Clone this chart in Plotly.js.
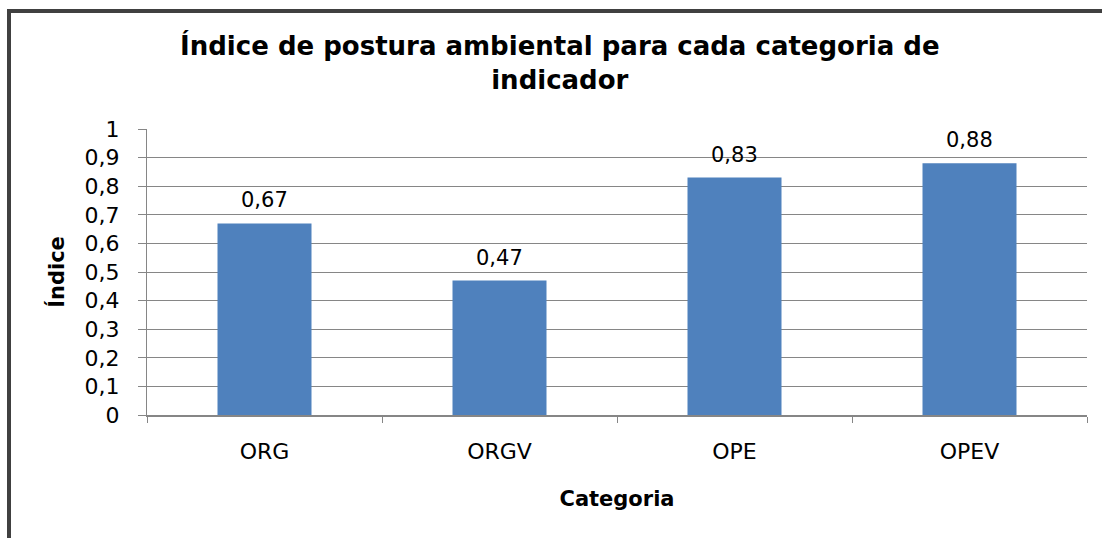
<!DOCTYPE html>
<html>
<head>
<meta charset="utf-8">
<script src="https://cdn.plot.ly/plotly-3.0.1.min.js"></script>
<style>
html,body{margin:0;padding:0;background:#fff;}
#wrap{position:relative;width:1102px;height:538px;overflow:hidden;}
#chart{width:1102px;height:538px;}
#frame{position:absolute;left:7px;top:9px;width:1110px;height:560px;border-left:4px solid #404040;border-top:4px solid #404040;pointer-events:none;}
</style>
</head>
<body>
<div id="wrap"><div id="chart"></div><div id="frame"></div></div>
<script>
const categories = ["ORG", "ORGV", "OPE", "OPEV"];
const values = [0.67, 0.47, 0.83, 0.88];
const labels = ["0,67", "0,47", "0,83", "0,88"];
const yTicks = [0, 0.1, 0.2, 0.3, 0.4, 0.5, 0.6, 0.7, 0.8, 0.9, 1];

const trace = {
  type: "bar",
  x: categories,
  y: values,
  marker: {color: "#4F81BD"},
  hoverinfo: "none"
};

const annotations = categories.map((c, i) => ({
  x: c, y: values[i], xref: "x", yref: "y",
  text: labels[i], showarrow: false,
  yanchor: "bottom", yshift: 9,
  font: {family: "DejaVu Sans", size: 21, color: "#000"}
}));

const layout = {
  width: 1102, height: 538,
  margin: {l: 147, r: 15, t: 129, b: 123},
  paper_bgcolor: "#fff", plot_bgcolor: "#fff",
  separators: ", ",
  bargap: 0.6,
  showlegend: false,
  annotations: annotations,
  title: {
    text: "<b>Índice de postura ambiental para cada categoria de<br>indicador</b>",
    font: {family: "DejaVu Sans", size: 26, color: "#000"},
    x: 0.508, xanchor: "center", y: 0.897, yanchor: "top"
  },
  xaxis: {
    type: "category",
    showline: true, linecolor: "#868686", linewidth: 2,
    ticks: "outside", tickson: "boundaries", ticklen: 6, tickcolor: "#868686",
    tickfont: {family: "DejaVu Sans", size: 22, color: "#000"},
    ticklabelstandoff: 16,
    title: {text: "<b>Categoria</b>", font: {family: "DejaVu Sans", size: 21, color: "#000"}, standoff: 28}
  },
  yaxis: {
    range: [0, 1],
    tickvals: yTicks,
    showline: true, linecolor: "#868686", linewidth: 1,
    showgrid: true, gridcolor: "#868686", gridwidth: 1,
    ticks: "outside", ticklen: 8, tickcolor: "#868686",
    tickfont: {family: "DejaVu Sans", size: 22, color: "#000"},
    ticklabelstandoff: 14,
    zeroline: false,
    title: {text: "<b>Índice</b>", font: {family: "DejaVu Sans", size: 21, color: "#000"}, standoff: 14}
  }
};

Plotly.newPlot("chart", [trace], layout, {displayModeBar: false, staticPlot: true});
</script>
</body>
</html>
